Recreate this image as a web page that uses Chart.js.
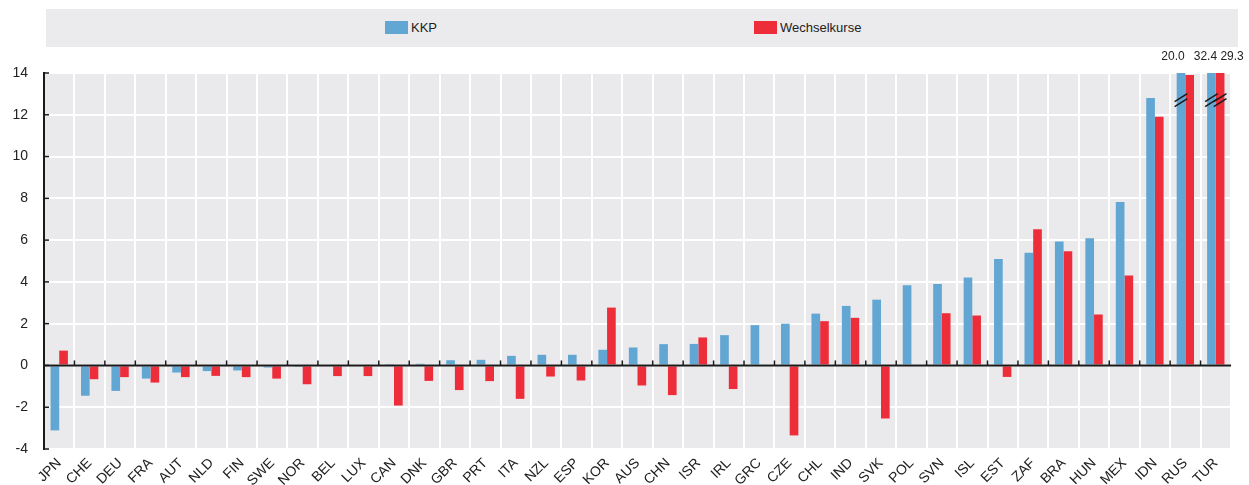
<!DOCTYPE html>
<html>
<head>
<meta charset="utf-8">
<script src="https://cdn.jsdelivr.net/npm/chart.js@4.4.0/dist/chart.umd.min.js"></script>
<style>
    html, body { margin: 0; padding: 0; background: #fff; }
    #wrap { position: relative; width: 1249px; height: 485px; }
    #legend {
        position: absolute; left: 46px; top: 9px; width: 1192px; height: 38px;
        background: #ebebed; font: 13px 'Liberation Sans', Arial, sans-serif; color: #222;
    }
    .item { position: absolute; top: 0; height: 38px; line-height: 38px; white-space: nowrap; }
    .sw { display: inline-block; width: 23px; height: 13px; vertical-align: -2px; margin-right: 3px; }
    canvas { position: absolute; left: 0; top: 0; }
</style>
</head>
<body>
<div id="wrap">
    <canvas id="chart" width="1249" height="485"></canvas>
    <div id="legend">
        <div class="item" style="left:339px"><span class="sw" style="background:#62a7d3"></span>KKP</div>
        <div class="item" style="left:708px"><span class="sw" style="background:#ee2d3a"></span>Wechselkurse</div>
    </div>
</div>
<script>
// Country codes, in chart order
const countries = ['JPN', 'CHE', 'DEU', 'FRA', 'AUT', 'NLD', 'FIN', 'SWE', 'NOR', 'BEL',
    'LUX', 'CAN', 'DNK', 'GBR', 'PRT', 'ITA', 'NZL', 'ESP', 'KOR', 'AUS',
    'CHN', 'ISR', 'IRL', 'GRC', 'CZE', 'CHL', 'IND', 'SVK', 'POL', 'SVN',
    'ISL', 'EST', 'ZAF', 'BRA', 'HUN', 'MEX', 'IDN', 'RUS', 'TUR'];

// KKP series
const kkp = [-3.11, -1.45, -1.22, -0.63, -0.34, -0.27, -0.24, -0.10, -0.02, 0,
    0, 0.03, 0.08, 0.25, 0.27, 0.46, 0.51, 0.51, 0.75, 0.86,
    1.02, 1.03, 1.45, 1.93, 2.00, 2.48, 2.85, 3.15, 3.84, 3.90,
    4.21, 5.09, 5.39, 5.93, 6.09, 7.83, 12.80, 20.0, 32.4];

// Wechselkurse series
const wechselkurse = [0.71, -0.66, -0.56, -0.82, -0.56, -0.50, -0.56, -0.63, -0.90, -0.51,
    -0.51, -1.92, -0.74, -1.18, -0.75, -1.60, -0.53, -0.72, 2.77, -0.96,
    -1.42, 1.34, -1.13, null, -3.35, 2.12, 2.28, -2.54, null, 2.50,
    2.39, -0.55, 6.52, 5.47, 2.44, 4.30, 11.91, 13.90, 29.3];

const yTicks = [-4, -2, 0, 2, 4, 6, 8, 10, 12, 14];
const breakValue = 12.7;   // where the "//" marks sit on cut bars

const FONT = "'Liberation Sans', Arial, sans-serif";
const BLUE = '#62a7d3';
const RED = '#ee2d3a';

// Grey plot background
const backgroundPlugin = {
    id: 'plotBackground',
    beforeDraw(chart) {
        const a = chart.chartArea, c = chart.ctx;
        c.save();
        c.fillStyle = '#eaeaed';
        c.fillRect(a.left, a.top, a.right - a.left, a.bottom - a.top);
        c.restore();
    }
};

// Zero line, tick marks, break marks and labels for cut bars
const decorPlugin = {
    id: 'decor',
    afterDatasetsDraw(chart) {
        const c = chart.ctx, a = chart.chartArea;
        const x = chart.scales.x, y = chart.scales.y;
        const y0 = y.getPixelForValue(0);
        c.save();
        c.strokeStyle = '#1a1a1a';
        c.lineWidth = 2;
        c.beginPath();
        c.moveTo(a.left, y0);
        c.lineTo(a.right, y0);
        c.stroke();

        // x ticks on the zero line, at category boundaries
        c.lineWidth = 1.5;
        for (let i = 1; i < countries.length; i++) {
            const bx = (x.getPixelForValue(i - 1) + x.getPixelForValue(i)) / 2;
            c.beginPath();
            c.moveTo(bx, y0);
            c.lineTo(bx, y0 - 5);
            c.stroke();
        }
        // y ticks pointing into the plot
        yTicks.forEach(v => {
            const py = y.getPixelForValue(v);
            c.beginPath();
            c.moveTo(a.left, py);
            c.lineTo(a.left + 5, py);
            c.stroke();
        });

        // break marks and value labels for bars above the axis maximum
        const max = y.max;
        const by = y.getPixelForValue(breakValue);
        const labelShift = { '0-37': -8, '0-38': -6, '1-38': 12 };
        chart.data.datasets.forEach((ds, di) => {
            const meta = chart.getDatasetMeta(di);
            ds.data.forEach((v, i) => {
                if (v === null || v <= max) return;
                const bar = meta.data[i];
                const half = bar.width / 2 + 2;
                c.strokeStyle = '#1a1a1a';
                c.lineWidth = 1.5;
                [-2.5, 2.5].forEach(off => {
                    c.beginPath();
                    c.moveTo(bar.x - half, by + 4 + off);
                    c.lineTo(bar.x + half, by - 4 + off);
                    c.stroke();
                });
                c.fillStyle = '#222';
                c.font = '12px ' + FONT;
                c.textAlign = 'center';
                c.textBaseline = 'middle';
                c.fillText(v.toFixed(1), bar.x + (labelShift[di + '-' + i] || 0), 57);
            });
        });
        c.restore();
    }
};

new Chart(document.getElementById('chart'), {
    type: 'bar',
    data: {
        labels: countries,
        datasets: [
            { label: 'KKP', data: kkp, backgroundColor: BLUE },
            { label: 'Wechselkurse', data: wechselkurse, backgroundColor: RED }
        ]
    },
    options: {
        responsive: false,
        animation: false,
        layout: { padding: { top: 73, right: 18, left: 0, bottom: 0 } },
        datasets: { bar: { categoryPercentage: 0.57, barPercentage: 1 } },
        scales: {
            x: {
                afterFit: s => { s.height = 36; },
                grid: { color: '#ffffff', lineWidth: 2, offset: true, drawTicks: false },
                border: { display: false },
                ticks: {
                    minRotation: 45, maxRotation: 45, padding: 6,
                    color: '#222', font: { family: FONT, size: 14 }
                }
            },
            y: {
                min: -4, max: 14,
                afterFit: s => { s.width = 44; },
                afterBuildTicks: s => { s.ticks = yTicks.map(v => ({ value: v })); },
                grid: { color: '#ffffff', lineWidth: 2, drawTicks: false },
                border: { display: true, color: '#1a1a1a', width: 2 },
                ticks: { padding: 16, color: '#222', font: { family: FONT, size: 14 } }
            }
        },
        plugins: {
            legend: { display: false },
            tooltip: { enabled: false }
        }
    },
    plugins: [backgroundPlugin, decorPlugin]
});
</script>
</body>
</html>
